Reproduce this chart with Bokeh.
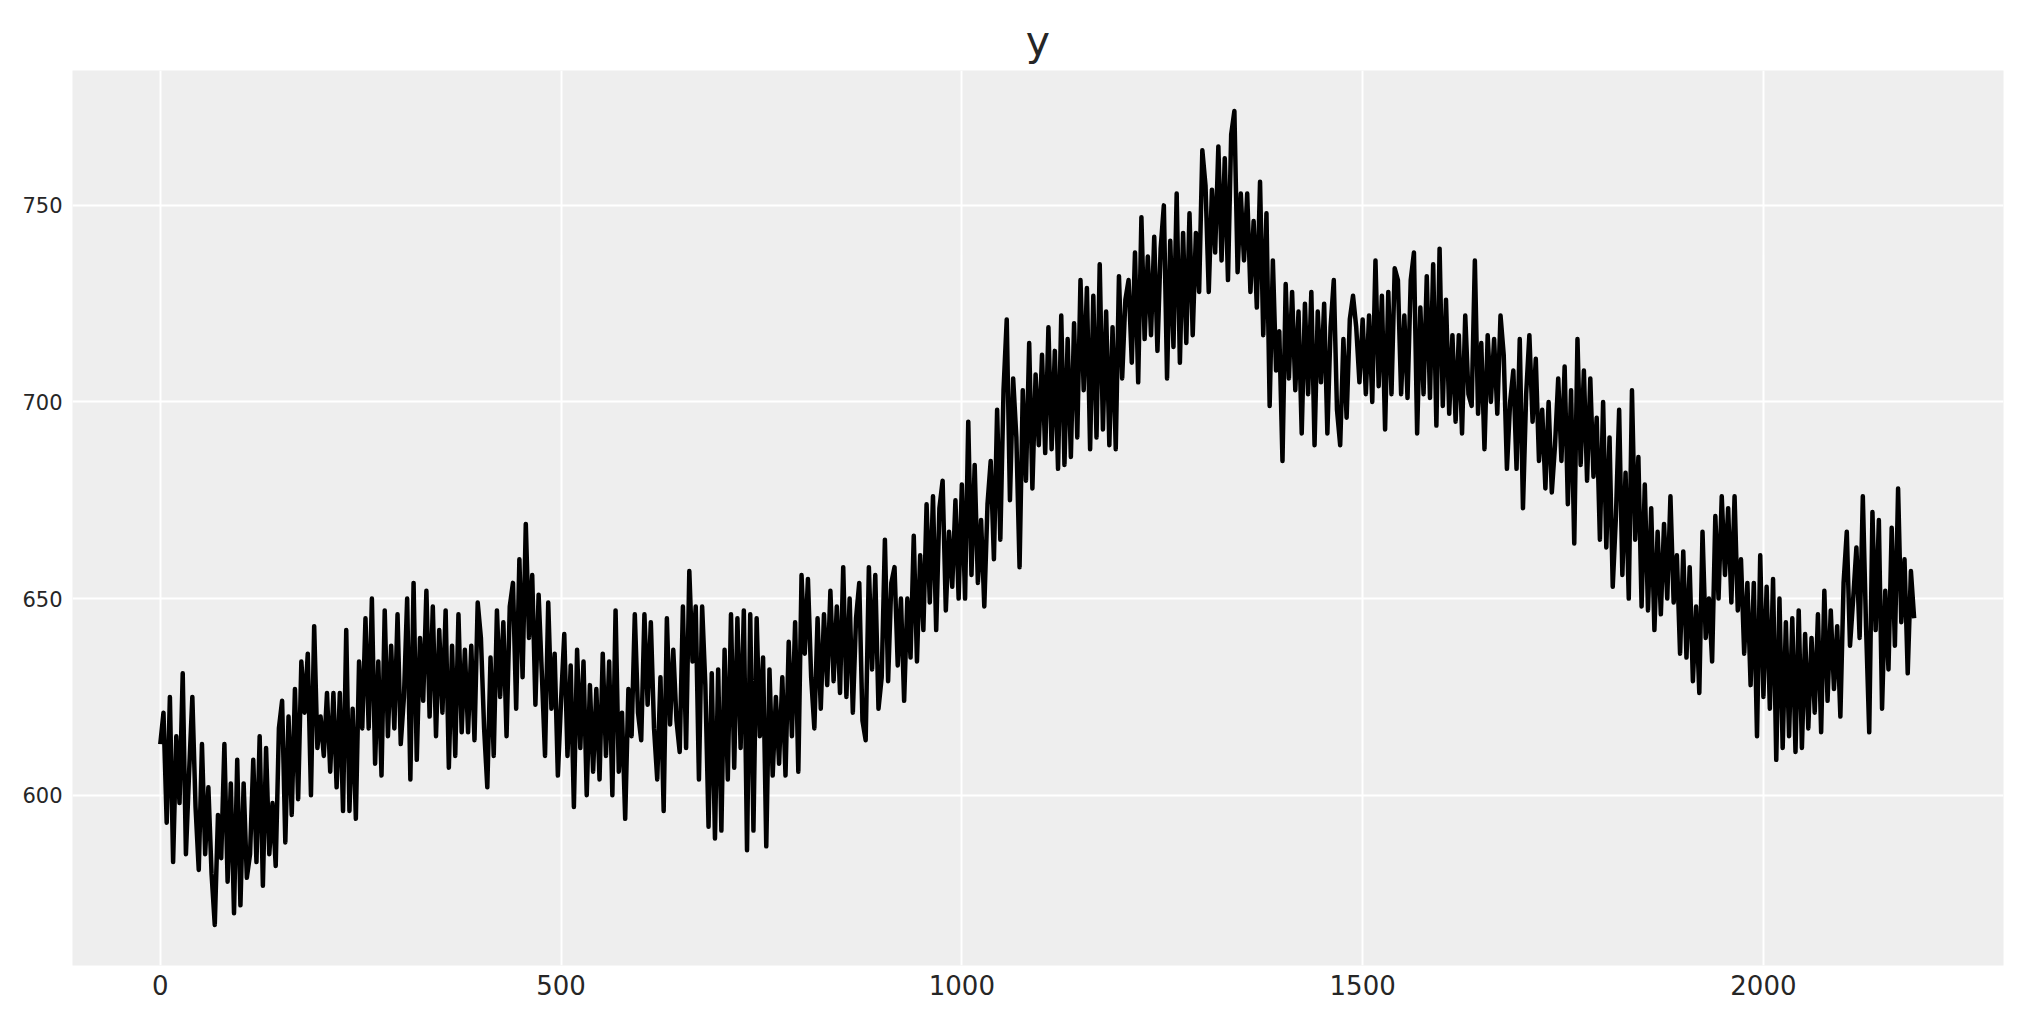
from bokeh.plotting import figure
from bokeh.models import Range1d
from bokeh.embed import file_html
from bokeh.resources import INLINE

values = [
    613, 621, 593, 625, 583, 615, 598, 631, 585, 606,
    625, 597, 581, 613, 585, 602, 580, 567, 595, 584,
    613, 578, 603, 570, 609, 572, 603, 579, 585, 609,
    583, 615, 577, 612, 585, 598, 582, 617, 624, 588,
    620, 595, 627, 599, 634, 621, 636, 600, 643, 612,
    620, 610, 626, 606, 626, 602, 626, 596, 642, 596,
    622, 594, 634, 617, 645, 617, 650, 608, 634, 605,
    647, 615, 638, 617, 646, 613, 625, 650, 604, 654,
    609, 640, 624, 652, 620, 648, 615, 642, 621, 647,
    607, 638, 610, 646, 616, 637, 616, 638, 614, 649,
    640, 617, 602, 635, 610, 647, 625, 644, 615, 648,
    654, 622, 660, 630, 669, 640, 656, 623, 651, 631,
    610, 649, 622, 636, 605, 624, 641, 610, 633, 597,
    637, 612, 634, 600, 628, 606, 627, 604, 636, 610,
    634, 600, 647, 606, 621, 594, 627, 615, 646, 621,
    614, 646, 623, 644, 617, 604, 630, 596, 645, 618,
    637, 619, 611, 648, 612, 657, 634, 648, 604, 648,
    628, 592, 631, 589, 632, 591, 637, 604, 646, 607,
    645, 612, 647, 586, 646, 591, 645, 615, 635, 587,
    632, 605, 625, 608, 630, 605, 639, 615, 644, 606,
    656, 636, 655, 630, 617, 645, 622, 646, 628, 652,
    629, 648, 626, 658, 625, 650, 621, 645, 654, 619,
    614, 658, 632, 656, 622, 630, 665, 629, 654, 658,
    633, 650, 624, 650, 635, 666, 634, 661, 642, 674,
    649, 676, 642, 673, 680, 647, 667, 653, 675, 650,
    679, 650, 695, 656, 684, 654, 670, 648, 674, 685,
    660, 698, 665, 703, 721, 675, 706, 691, 658, 703,
    680, 715, 678, 707, 689, 712, 687, 719, 688, 713,
    683, 722, 684, 716, 686, 720, 691, 731, 703, 729,
    688, 727, 691, 735, 693, 723, 689, 719, 688, 732,
    706, 726, 731, 710, 738, 705, 747, 716, 737, 717,
    742, 713, 739, 750, 706, 741, 714, 753, 710, 743,
    715, 748, 717, 743, 728, 764, 755, 728, 754, 738,
    765, 736, 762, 731, 768, 774, 733, 753, 736, 753,
    728, 746, 724, 756, 717, 748, 699, 736, 708, 718,
    685, 730, 706, 728, 703, 723, 692, 725, 702, 728,
    689, 723, 705, 725, 692, 719, 731, 698, 689, 716,
    696, 721, 727, 719, 705, 721, 702, 722, 700, 736,
    704, 727, 693, 728, 702, 734, 731, 702, 722, 701,
    731, 738, 692, 724, 702, 732, 701, 735, 694, 739,
    699, 726, 697, 717, 695, 717, 692, 722, 702, 699,
    736, 697, 715, 688, 717, 700, 716, 697, 722, 712,
    683, 700, 708, 683, 716, 673, 702, 717, 695, 711,
    685, 698, 678, 700, 677, 689, 706, 685, 709, 674,
    703, 664, 716, 684, 708, 680, 706, 681, 696, 665,
    700, 663, 691, 653, 671, 698, 656, 682, 650, 703,
    665, 686, 648, 679, 647, 673, 642, 667, 646, 669,
    650, 676, 649, 661, 636, 662, 635, 658, 629, 648,
    626, 667, 640, 650, 634, 671, 650, 676, 656, 673,
    649, 676, 647, 660, 636, 654, 628, 654, 615, 661,
    625, 653, 622, 655, 609, 650, 612, 644, 615, 645,
    611, 647, 612, 641, 617, 640, 621, 646, 616, 652,
    624, 647, 627, 643, 620, 654, 667, 638, 650, 663,
    640, 676, 643, 616, 672, 642, 670, 622, 652, 632,
    668, 638, 678, 644, 660, 631, 657, 645,
]
step = 4
index = list(range(0, step * len(values), step))

x_ticks = [0, 500, 1000, 1500, 2000]
y_ticks = [600, 650, 700, 750]
title_text = "y"

p = figure(
    width=2007, height=1007,
    output_backend="svg", toolbar_location=None,
    x_range=Range1d(-109.5, 2299.5), y_range=Range1d(556.7, 784.3),
    min_border_left=72, min_border_right=4, min_border_top=70, min_border_bottom=42,
    background_fill_color="#eeeeee", border_fill_color="white",
)
p.outline_line_color = None

p.title.text = title_text
p.title.align = "center"
p.title.text_font = "DejaVu Sans"
p.title.text_font_size = "41px"
p.title.text_font_style = "normal"
p.title.text_color = "#262626"
p.title.standoff = 11

for ax in (p.xaxis, p.yaxis):
    ax.axis_line_color = None
    ax.major_tick_line_color = None
    ax.minor_tick_line_color = None
    ax.major_tick_in = 0
    ax.major_tick_out = 0
    ax.minor_tick_in = 0
    ax.minor_tick_out = 0
    ax.major_label_text_font = "DejaVu Sans"
    ax.major_label_text_color = "#262626"

p.xaxis.ticker = x_ticks
p.yaxis.ticker = y_ticks
p.xaxis.major_label_text_font_size = "26px"
p.yaxis.major_label_text_font_size = "21px"
p.xaxis.major_label_standoff = 9
p.yaxis.major_label_standoff = 10

p.xgrid.grid_line_color = "white"
p.ygrid.grid_line_color = "white"
p.xgrid.grid_line_width = 2
p.ygrid.grid_line_width = 2

p.line(index, values, line_color="black", line_width=4.5, line_join="round")

open("out.html", "w").write(file_html(p, INLINE))
